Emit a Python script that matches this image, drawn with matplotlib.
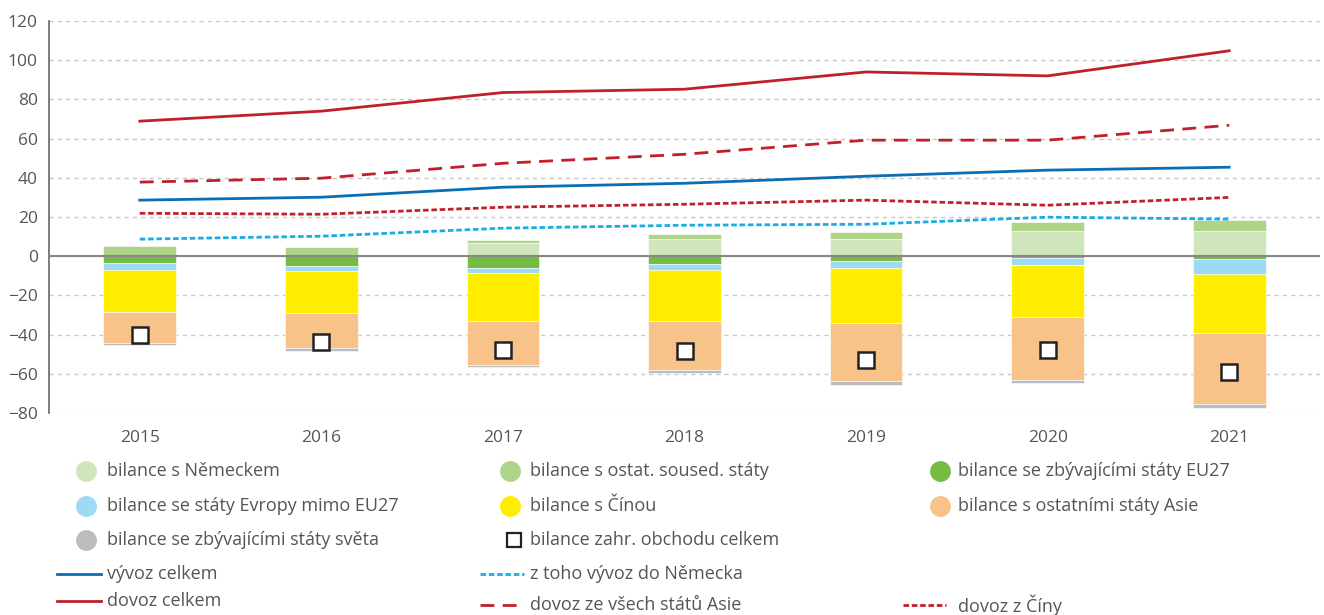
import numpy as np
import matplotlib
matplotlib.use("Agg")
from matplotlib import pyplot as plt
from matplotlib.lines import Line2D

plt.rcParams['font.family'] = ['Open Sans', 'DejaVu Sans']

# DATA ########################################################################

years = ["2015", "2016", "2017", "2018", "2019", "2020", "2021"]

bal_nemecko = [0.3, 0.2, 6.5, 9.0, 9.0, 12.9, 13.1]
bal_soused = [5.0, 4.3, 2.0, 2.4, 3.6, 4.4, 5.3]
bal_eu27 = [-3.4, -4.8, -5.8, -3.9, -2.7, -0.8, -1.2]
bal_evropa = [-3.7, -2.9, -2.7, -3.2, -3.1, -3.6, -8.0]
bal_cina = [-21.4, -21.3, -24.7, -26.0, -28.1, -26.4, -29.8]
bal_asie = [-16.0, -18.0, -22.1, -25.2, -30.0, -32.3, -36.6]
bal_svet = [-1.0, -1.2, -1.2, -1.2, -2.0, -1.7, -1.7]
bal_celkem = [-40.3, -43.7, -48.0, -48.3, -52.9, -48.0, -59.2]

vyvoz_celkem = [28.6, 30.1, 35.2, 37.2, 40.8, 43.9, 45.4]
vyvoz_nemecko = [8.7, 10.2, 14.3, 15.8, 16.3, 19.9, 18.9]
dovoz_celkem = [68.9, 74.0, 83.5, 85.2, 94.0, 92.0, 104.8]
dovoz_asie = [37.8, 39.8, 47.4, 52.0, 59.2, 59.2, 66.8]
dovoz_cina = [21.9, 21.4, 25.0, 26.5, 28.6, 26.0, 30.0]

# STYLE #######################################################################

bar_series = [
    ("bilance s Německem", bal_nemecko, "#cfe5bc"),
    ("bilance s ostat. soused. státy", bal_soused, "#aed48a"),
    ("bilance se zbývajícími státy EU27", bal_eu27, "#76bc43"),
    ("bilance se státy Evropy mimo EU27", bal_evropa, "#9ddaf5"),
    ("bilance s Čínou", bal_cina, "#ffed00"),
    ("bilance s ostatními státy Asie", bal_asie, "#f7c389"),
    ("bilance se zbývajícími státy světa", bal_svet, "#bdbdbf"),
]

blue = "#0a6eb4"
light_blue = "#1aade4"
red = "#c0202a"
text_color = "#555555"
legend_size = 13

# PLOT ########################################################################

W, H = 1324, 615
fig = plt.figure(figsize=(W / 100, H / 100), dpi=100)
ax = fig.add_axes([49 / W, 1 - 413 / H, (1320 - 49) / W, (413 - 21) / H])

x = np.arange(len(years))
pos_bottom = np.zeros(len(years))
neg_bottom = np.zeros(len(years))
for label, values, color in bar_series:
    values = np.array(values)
    bottom = np.where(values >= 0, pos_bottom, neg_bottom)
    ax.bar(x, values, width=0.4, bottom=bottom, color=color,
           edgecolor="white", linewidth=0.4, zorder=2)
    pos_bottom += np.where(values >= 0, values, 0)
    neg_bottom += np.where(values < 0, values, 0)

ax.plot(x, bal_celkem, linestyle="none", marker="s", markersize=11,
        markerfacecolor="white", markeredgecolor="#222222",
        markeredgewidth=1.8, zorder=4)

ax.plot(x, dovoz_celkem, color=red, linewidth=2.0, zorder=3)
ax.plot(x, dovoz_asie, color=red, linewidth=2.0, dashes=(5, 3), zorder=3)
ax.plot(x, dovoz_cina, color=red, linewidth=2.0, dashes=(2, 1), zorder=3)
ax.plot(x, vyvoz_celkem, color=blue, linewidth=2.0, zorder=3)
ax.plot(x, vyvoz_nemecko, color=light_blue, linewidth=2.0, dashes=(2, 1), zorder=3)

ax.axhline(0, color="#888888", linewidth=1.5, zorder=3)

ticks = np.arange(-80, 121, 20)
ax.set_xlim(-0.5, 6.5)
ax.set_ylim(-80, 120)
ax.set_yticks(ticks)
ax.set_yticklabels(["\u2212%d" % -v if v < 0 else "%d" % v for v in ticks])
ax.set_xticks(x)
ax.set_xticklabels(years)
ax.yaxis.grid(True, color="#c8c8c8", linestyle=(0, (3, 3)), linewidth=1.0, zorder=0)
ax.set_axisbelow(True)

for side in ["top", "right", "bottom"]:
    ax.spines[side].set_visible(False)
ax.spines["left"].set_color("#666666")
ax.spines["left"].set_linewidth(1.2)
ax.tick_params(axis="y", length=0, pad=8, labelsize=12.5, labelcolor=text_color)
ax.tick_params(axis="x", length=0, pad=12, labelsize=12.5, labelcolor=text_color)

# LEGEND ######################################################################


def fx(px):
    return px / W


def fy(py):
    return 1 - py / H


col_mark = [86, 510, 940]
col_text = [107, 530, 958]
col_line = [(57, 101), (480, 524), (903, 946)]

circle_items = [
    (0, 471), (1, 471), (2, 471),
    (0, 506), (1, 506), (2, 506),
    (0, 540),
]
for (col, row_y), (label, values, color) in zip(circle_items, bar_series):
    fig.add_artist(Line2D([fx(col_mark[col])], [fy(row_y)], marker="o",
                          markersize=14, color=color, linestyle="none"))
    fig.text(fx(col_text[col]), fy(row_y), label, fontsize=legend_size,
             color=text_color, va="center")

fig.add_artist(Line2D([fx(col_mark[1] + 4)], [fy(540)], marker="s",
                      markersize=10, markerfacecolor="white",
                      markeredgecolor="#222222", markeredgewidth=1.6,
                      linestyle="none"))
fig.text(fx(col_text[1]), fy(540), "bilance zahr. obchodu celkem",
         fontsize=legend_size, color=text_color, va="center")

line_items = [
    (0, 574, "vývoz celkem", blue, None),
    (1, 574, "z toho vývoz do Německa", light_blue, (2, 1)),
    (0, 601, "dovoz celkem", red, None),
    (1, 605, "dovoz ze všech států Asie", red, (5, 3)),
    (2, 605, "dovoz z Číny", red, (2, 1)),
]
for col, row_y, label, color, dashes in line_items:
    x0, x1 = col_line[col]
    ln = Line2D([fx(x0), fx(x1)], [fy(row_y), fy(row_y)], color=color,
                linewidth=2.0)
    if dashes is not None:
        ln.set_dashes(dashes)
    fig.add_artist(ln)
    fig.text(fx(col_text[col]), fy(row_y), label, fontsize=legend_size,
             color=text_color, va="center")

fig.savefig("out.png", dpi=100)
